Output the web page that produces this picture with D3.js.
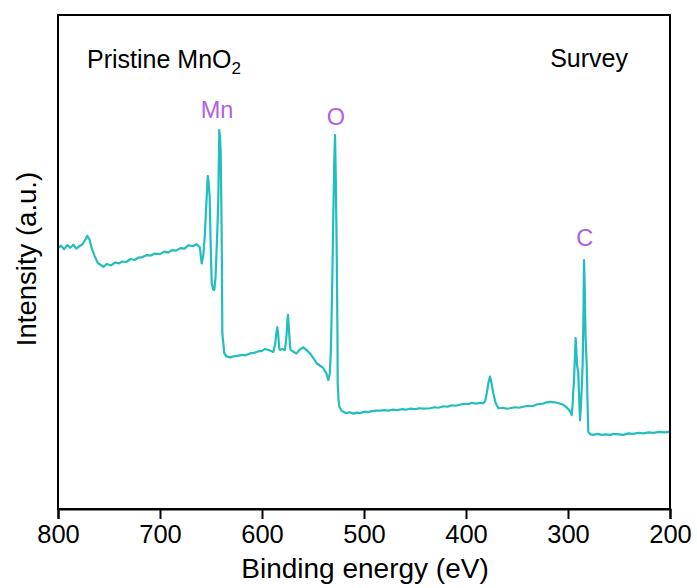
<!DOCTYPE html>
<html>
<head>
<meta charset="utf-8">
<script src="https://cdn.jsdelivr.net/npm/d3@7"></script>
<style>
  html, body { margin: 0; padding: 0; background: #fff; }
  svg { display: block; }
  text { font-family: Arial, "Liberation Sans", sans-serif; }
</style>
</head>
<body>
<svg id="chart" width="697" height="588"></svg>
<script>
// Binding energy (eV) (descending)
const bindingEnergy = [
  800, 797, 794, 791, 788, 785, 782, 779, 776, 773, 771.3, 769, 767, 764, 761, 758, 755.6, 752, 748, 744,
  740, 737.5, 733, 729, 725, 721, 717, 713, 709, 705, 700, 696, 692, 688.5, 684, 680, 676, 672.3, 668, 664,
  661, 659.1, 657.5, 656, 655.2, 654, 653.2, 652.5, 651.3, 650.5, 649.3, 648, 646.8, 645.5, 644.4, 643.5, 642.8, 641.9, 641.2, 640.5,
  639.5, 638.9, 637, 635, 633, 631.4, 628, 624, 620, 616, 611.8, 608, 604, 600, 597, 595.4, 591, 588.9, 587, 586,
  585, 584, 583, 582.4, 580, 577.5, 576, 575.2, 574.5, 573.5, 572.5, 571.9, 569, 566, 563, 559.5, 556, 552.9, 549.5, 546.4,
  543, 539.9, 537, 535, 533.5, 532.5, 531.7, 530.8, 530.1, 529.2, 528.4, 527.6, 526.8, 526, 525.8, 524.9, 524.2, 522, 519, 517,
  514, 510, 507, 503.9, 500, 496, 492, 488, 484, 480, 476, 472, 467.9, 463, 459, 455, 450, 446, 441, 435.3,
  431, 427, 422, 418, 414, 410, 406, 402.6, 398, 394, 390, 386, 383, 381, 379.7, 378, 376.5, 375.3, 373.2, 371,
  368.3, 364, 360, 356.9, 352, 348, 343.8, 339, 335, 330, 325, 321, 317.6, 313, 309, 304.6, 301, 298, 296.4, 295.5,
  294.8, 294.1, 293.2, 292.5, 291.8, 291, 289.9, 289, 288.2, 287.3, 286.4, 285.6, 284.8, 284.3, 283.6, 282.8, 281.7, 280.9, 280.1, 278,
  275.2, 271, 267, 263, 259, 255, 250, 245.8, 241, 236, 231, 226, 221, 216, 211, 206, 200
];
// Intensity (a.u.)
const intensity = [
  52.8, 53.3, 52.6, 53.4, 52.9, 53.5, 52.7, 53.2, 53.6, 54.6, 55.3, 54.5, 52.8, 51.2, 49.8, 49.4, 49.0, 49.6, 49.3, 49.9,
  49.7, 50.1, 50.0, 50.6, 50.4, 50.9, 51.0, 51.4, 51.3, 51.7, 51.6, 52.1, 51.9, 52.4, 52.3, 52.8, 52.7, 53.4, 53.2, 53.6,
  53.0, 49.7, 51.5, 55.5, 59.2, 64.0, 67.4, 66.5, 63.2, 55.0, 45.7, 44.5, 44.3, 47.0, 53.1, 58.0, 63.2, 76.7, 75.5, 72.1,
  55.0, 35.6, 31.6, 30.9, 30.8, 30.7, 30.9, 31.0, 31.2, 31.1, 31.5, 31.6, 31.9, 32.0, 32.4, 32.3, 32.0, 31.8, 33.5, 35.5,
  36.8, 35.0, 32.5, 32.2, 32.4, 32.2, 35.0, 38.0, 39.3, 36.0, 33.0, 32.2, 31.8, 31.5, 32.3, 32.7, 32.1, 31.5, 30.5, 29.5,
  29.0, 28.5, 27.5, 26.1, 27.5, 32.0, 39.6, 50.0, 59.2, 70.0, 75.7, 66.0, 53.1, 35.0, 25.4, 22.0, 20.7, 19.9, 19.5, 19.4,
  19.6, 19.3, 19.5, 19.4, 19.7, 19.6, 19.8, 19.9, 19.9, 20.0, 19.9, 20.1, 20.0, 20.2, 20.1, 20.3, 20.2, 20.4, 20.3, 20.4,
  20.6, 20.5, 20.8, 20.7, 21.0, 20.9, 21.1, 21.3, 21.2, 21.5, 21.3, 21.5, 21.4, 22.0, 23.4, 25.5, 26.8, 25.8, 23.4, 21.5,
  20.4, 20.5, 20.3, 20.4, 20.6, 20.5, 20.7, 20.9, 20.8, 21.2, 21.3, 21.6, 21.7, 21.6, 21.4, 21.1, 20.5, 19.8, 19.0, 21.0,
  24.0, 26.1, 31.0, 34.6, 32.0, 29.0, 27.5, 22.0, 18.0, 21.0, 25.0, 29.5, 40.0, 50.4, 45.0, 35.0, 29.5, 22.0, 15.6, 15.1,
  15.0, 15.2, 15.0, 15.1, 15.0, 15.2, 15.1, 15.0, 15.3, 15.2, 15.4, 15.3, 15.5, 15.4, 15.6, 15.5, 15.6
];
const xTicks = [800, 700, 600, 500, 400, 300, 200];
const peakLabels = ["Mn", "O", "C"];
const peakEnergies = [644.0, 527.5, 283.5];
const peakLabelIntensity = [79.2, 77.8, 53.2];

const svg = d3.select("#chart");
const W = 697, H = 588;
const m = { left: 58, right: 27, top: 15, bottom: 79 };

const x = d3.scaleLinear().domain([800, 200]).range([m.left, W - m.right]);
const y = d3.scaleLinear().domain([0, 100]).range([H - m.bottom, m.top]);

const data = bindingEnergy.map((e, i) => ({ e, v: intensity[i] }));

// spectrum
svg.append("path")
  .datum(data)
  .attr("fill", "none")
  .attr("stroke", "#22bdbd")
  .attr("stroke-width", 2.2)
  .attr("stroke-linejoin", "round")
  .attr("d", d3.line().x(d => x(d.e)).y(d => y(d.v)));

// frame
svg.append("rect")
  .attr("x", m.left).attr("y", m.top)
  .attr("width", W - m.left - m.right).attr("height", H - m.top - m.bottom)
  .attr("fill", "none").attr("stroke", "#000").attr("stroke-width", 2);

// x axis
const xAxis = svg.append("g")
  .attr("transform", `translate(0,${H - m.bottom})`)
  .call(d3.axisBottom(x).tickValues(xTicks).tickSize(10).tickPadding(6).tickFormat(d3.format("d")));
xAxis.select(".domain").attr("stroke-width", 2);
xAxis.selectAll(".tick line").attr("stroke-width", 2);
xAxis.selectAll(".tick text").attr("font-size", 25.5).attr("fill", "#000")
  .attr("font-family", "Arial, 'Liberation Sans', sans-serif");

// axis titles
svg.append("text")
  .attr("x", 365).attr("y", 578)
  .attr("text-anchor", "middle").attr("font-size", 28).attr("fill", "#000")
  .text("Binding energy (eV)");

svg.append("text")
  .attr("transform", `translate(36,${(m.top + H - m.bottom) / 2 - 3}) rotate(-90)`)
  .attr("text-anchor", "middle").attr("font-size", 27.5).attr("fill", "#000")
  .text("Intensity (a.u.)");

// annotations
const t1 = svg.append("text").attr("x", 87).attr("y", 68).attr("font-size", 25).attr("fill", "#000");
t1.append("tspan").text("Pristine MnO");
t1.append("tspan").attr("font-size", 17).attr("dy", 6).text("2");

svg.append("text").attr("x", 628).attr("y", 67).attr("text-anchor", "end")
  .attr("font-size", 25).attr("fill", "#000").text("Survey");

svg.selectAll(".peak")
  .data(peakLabels)
  .join("text")
  .attr("class", "peak")
  .attr("x", (d, i) => x(peakEnergies[i]))
  .attr("y", (d, i) => y(peakLabelIntensity[i]))
  .attr("text-anchor", "middle")
  .attr("font-size", 23.5)
  .attr("fill", "#b061e6")
  .text(d => d);
</script>
</body>
</html>
